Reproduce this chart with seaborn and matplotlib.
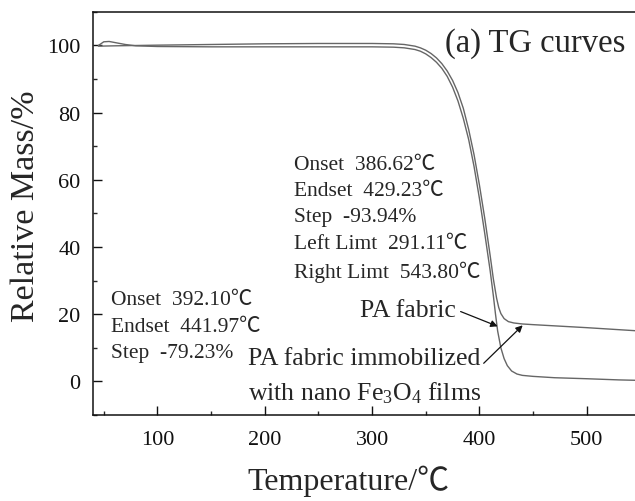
import numpy as np
import pandas as pd
import matplotlib
matplotlib.use("Agg")
import matplotlib.pyplot as plt
import seaborn as sns

# temperatures (C) and relative mass (%)
pa_temp = [45, 50, 55, 60, 70, 80, 100, 150, 200, 250, 300, 320, 330, 340,
           345, 350, 355, 360, 365, 370, 375, 380, 385, 390, 395, 400, 405,
           410, 413, 415, 417, 420, 423, 426, 430, 435, 440, 450, 470, 500,
           530, 550]
pa_mass = [100.0, 101.1, 101.2, 100.9, 100.3, 99.9, 99.7, 99.6, 99.6, 99.6,
           99.6, 99.5, 99.3, 98.8, 98.3, 97.5, 96.4, 95.0, 93.2, 90.8, 87.6,
           83.5, 78.3, 72.0, 64.0, 54.5, 44.0, 33.0, 25.5, 20.0, 15.0, 10.0,
           6.8, 4.7, 3.1, 2.2, 1.8, 1.5, 1.1, 0.8, 0.45, 0.3]

fe_temp = [45, 60, 80, 100, 150, 200, 250, 300, 320, 330, 340, 345, 350,
           355, 360, 365, 370, 375, 380, 385, 390, 395, 400, 405, 410, 413,
           416, 418, 420, 423, 427, 432, 440, 450, 500, 550]
fe_mass = [99.8, 99.9, 100.0, 100.1, 100.3, 100.5, 100.6, 100.6, 100.5,
           100.3, 99.8, 99.3, 98.6, 97.6, 96.3, 94.6, 92.4, 89.6, 86.0, 81.3,
           75.0, 67.5, 58.5, 48.5, 37.5, 30.5, 24.8, 22.0, 20.2, 18.7, 17.8,
           17.4, 17.1, 16.9, 16.0, 15.0]

df = pd.concat([
    pd.DataFrame({"T": pa_temp, "m": pa_mass, "s": "PA"}),
    pd.DataFrame({"T": fe_temp, "m": fe_mass, "s": "Fe"}),
])

sns.set_style("ticks")
plt.rcParams['font.family'] = ['Liberation Serif', 'Noto Sans CJK SC']
plt.rcParams['mathtext.fontset'] = 'custom'
plt.rcParams['mathtext.rm'] = 'Liberation Serif'
plt.rcParams['mathtext.it'] = 'Liberation Serif'

fig = plt.figure(figsize=(6.35, 5.02), dpi=100)
ax = fig.add_axes([0.1465, 0.1713, 0.862, 0.803])

sns.lineplot(data=df, x="T", y="m", hue="s", palette=["#666666", "#666666"],
             linewidth=1.0, legend=False, sort=False, estimator=None, ax=ax)

ax.set_xlim(40, 550)
ax.set_ylim(-10, 110)
ax.set_xticks([100, 200, 300, 400, 500])
ax.set_xticks(np.arange(50, 551, 50), minor=True)
ax.set_yticks([0, 20, 40, 60, 80, 100])
ax.set_yticks(np.arange(-10, 111, 10), minor=True)
ax.tick_params(which="major", direction="in", length=6.5, width=1.0,
               labelsize=16, colors="#111111")
ax.tick_params(axis="x", which="major", pad=11)
ax.tick_params(axis="y", which="major", pad=9)
ax.tick_params(which="minor", direction="in", length=3.2, width=1.0)
for sp in ax.spines.values():
    sp.set_linewidth(1.1)
    sp.set_color("#111111")

ax.set_xlabel("Temperature/℃", fontsize=23)
ax.set_ylabel("Relative Mass/%", fontsize=24.5)
ax.xaxis.set_label_coords(0.466, -0.122)
ax.yaxis.set_label_coords(-0.095, 0.52)

ax.text(0.9726, 0.925, "(a) TG curves", transform=ax.transAxes,
        fontsize=23.5, ha="right", va="center")

ax.text(227, 67.5, "Onset  386.62℃\nEndset  429.23℃\nStep  -93.94%\n"
        "Left Limt  291.11℃\nRight Limt  543.80℃",
        fontsize=15.5, ha="left", va="top", linespacing=1.52)
ax.text(57, 27.1, "Onset  392.10℃\nEndset  441.97℃\nStep  -79.23%",
        fontsize=15.5, ha="left", va="top", linespacing=1.52)

arrow = dict(arrowstyle="-|>", color="#111111", lw=0.9, mutation_scale=10,
             shrinkA=0, shrinkB=0)
ax.text(377.9, 19.6, "PA fabric", fontsize=18.5, ha="right", va="baseline")
ax.annotate("", xy=(417, 16.4), xytext=(382.5, 20.8), arrowprops=arrow)
ax.text(184.8, 5.2, "PA fabric immobilized", fontsize=18.5, ha="left",
        va="baseline")
ax.text(184.8, -5.3, "with nano Fe$_3$O$_4$ films", fontsize=18.5,
        ha="left", va="baseline")
ax.annotate("", xy=(440.3, 16.7), xytext=(404, 5.4), arrowprops=arrow)

fig.savefig("out.png", dpi=100)
